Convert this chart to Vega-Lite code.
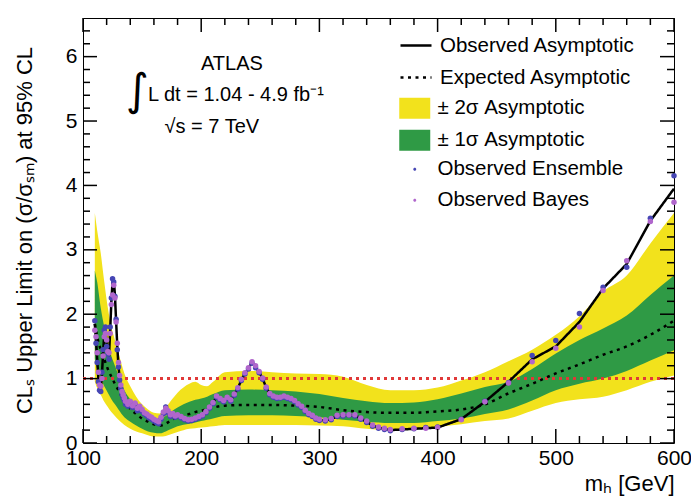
{
  "$schema": "https://vega.github.io/schema/vega-lite/v6.json",
  "width": 591,
  "height": 425,
  "autosize": {"type": "none"},
  "padding": {"left": 83, "top": 18, "right": 17, "bottom": 55},
  "background": "white",
  "config": {
    "font": "Liberation Sans",
    "view": {"stroke": "black", "strokeWidth": 1},
    "axis": {"labelColor": "black", "tickColor": "black", "titleColor": "black", "grid": false, "domain": false, "labelFont": "Liberation Sans", "titleFont": "Liberation Sans"},
    "legend": {"labelFont": "Liberation Sans", "labelColor": "black", "labelLimit": 0}
  },
  "datasets": {
    "xmajor": [{"m": 100}, {"m": 200}, {"m": 300}, {"m": 400}, {"m": 500}, {"m": 600}],
    "xminor": [{"m": 120}, {"m": 140}, {"m": 160}, {"m": 180}, {"m": 220}, {"m": 240}, {"m": 260}, {"m": 280}, {"m": 320}, {"m": 340}, {"m": 360}, {"m": 380}, {"m": 420}, {"m": 440}, {"m": 460}, {"m": 480}, {"m": 520}, {"m": 540}, {"m": 560}, {"m": 580}],
    "ymajor": [{"v": 0}, {"v": 1}, {"v": 2}, {"v": 3}, {"v": 4}, {"v": 5}, {"v": 6}],
    "yminor": [{"v": 0.2}, {"v": 0.4}, {"v": 0.6}, {"v": 0.8}, {"v": 1.2}, {"v": 1.4}, {"v": 1.6}, {"v": 1.8}, {"v": 2.2}, {"v": 2.4}, {"v": 2.6}, {"v": 2.8}, {"v": 3.2}, {"v": 3.4}, {"v": 3.6}, {"v": 3.8}, {"v": 4.2}, {"v": 4.4}, {"v": 4.6}, {"v": 4.8}, {"v": 5.2}, {"v": 5.4}, {"v": 5.6}, {"v": 5.8}, {"v": 6.2}, {"v": 6.4}],
    "bands": [
      {"m": 110, "exp": 1.85, "g_lo": 1.3, "g_hi": 2.68, "y_lo": 0.95, "y_hi": 3.57},
      {"m": 112, "exp": 1.65, "g_lo": 1.15, "g_hi": 2.5, "y_lo": 0.85, "y_hi": 3.3},
      {"m": 115, "exp": 1.45, "g_lo": 1.0, "g_hi": 2.1, "y_lo": 0.75, "y_hi": 2.95},
      {"m": 118, "exp": 1.3, "g_lo": 0.88, "g_hi": 1.8, "y_lo": 0.64, "y_hi": 2.5},
      {"m": 121, "exp": 1.15, "g_lo": 0.78, "g_hi": 1.55, "y_lo": 0.56, "y_hi": 2.1},
      {"m": 124, "exp": 1.03, "g_lo": 0.68, "g_hi": 1.35, "y_lo": 0.48, "y_hi": 1.8},
      {"m": 127, "exp": 0.92, "g_lo": 0.6, "g_hi": 1.2, "y_lo": 0.42, "y_hi": 1.6},
      {"m": 130, "exp": 0.82, "g_lo": 0.52, "g_hi": 1.05, "y_lo": 0.36, "y_hi": 1.4},
      {"m": 135, "exp": 0.64, "g_lo": 0.4, "g_hi": 0.82, "y_lo": 0.28, "y_hi": 1.08},
      {"m": 140, "exp": 0.53, "g_lo": 0.33, "g_hi": 0.68, "y_lo": 0.22, "y_hi": 0.88},
      {"m": 145, "exp": 0.45, "g_lo": 0.27, "g_hi": 0.59, "y_lo": 0.18, "y_hi": 0.72},
      {"m": 150, "exp": 0.38, "g_lo": 0.22, "g_hi": 0.5, "y_lo": 0.15, "y_hi": 0.6},
      {"m": 155, "exp": 0.33, "g_lo": 0.18, "g_hi": 0.44, "y_lo": 0.12, "y_hi": 0.52},
      {"m": 160, "exp": 0.29, "g_lo": 0.16, "g_hi": 0.39, "y_lo": 0.1, "y_hi": 0.47},
      {"m": 165, "exp": 0.27, "g_lo": 0.15, "g_hi": 0.37, "y_lo": 0.1, "y_hi": 0.46},
      {"m": 170, "exp": 0.3, "g_lo": 0.18, "g_hi": 0.42, "y_lo": 0.11, "y_hi": 0.55},
      {"m": 175, "exp": 0.36, "g_lo": 0.22, "g_hi": 0.49, "y_lo": 0.14, "y_hi": 0.67},
      {"m": 180, "exp": 0.4, "g_lo": 0.26, "g_hi": 0.55, "y_lo": 0.17, "y_hi": 0.78},
      {"m": 190, "exp": 0.45, "g_lo": 0.3, "g_hi": 0.64, "y_lo": 0.22, "y_hi": 0.92},
      {"m": 195, "exp": 0.48, "g_lo": 0.32, "g_hi": 0.67, "y_lo": 0.23, "y_hi": 0.95},
      {"m": 200, "exp": 0.5, "g_lo": 0.34, "g_hi": 0.69, "y_lo": 0.24, "y_hi": 0.9},
      {"m": 205, "exp": 0.53, "g_lo": 0.36, "g_hi": 0.72, "y_lo": 0.25, "y_hi": 0.88},
      {"m": 210, "exp": 0.55, "g_lo": 0.38, "g_hi": 0.76, "y_lo": 0.26, "y_hi": 0.95},
      {"m": 220, "exp": 0.58, "g_lo": 0.42, "g_hi": 0.82, "y_lo": 0.28, "y_hi": 1.1},
      {"m": 240, "exp": 0.59, "g_lo": 0.43, "g_hi": 0.83, "y_lo": 0.28, "y_hi": 1.12},
      {"m": 260, "exp": 0.59, "g_lo": 0.43, "g_hi": 0.82, "y_lo": 0.28, "y_hi": 1.1},
      {"m": 280, "exp": 0.58, "g_lo": 0.42, "g_hi": 0.8, "y_lo": 0.28, "y_hi": 1.08},
      {"m": 300, "exp": 0.56, "g_lo": 0.4, "g_hi": 0.76, "y_lo": 0.27, "y_hi": 1.07},
      {"m": 320, "exp": 0.51, "g_lo": 0.36, "g_hi": 0.7, "y_lo": 0.26, "y_hi": 1.03},
      {"m": 340, "exp": 0.48, "g_lo": 0.33, "g_hi": 0.65, "y_lo": 0.22, "y_hi": 0.9},
      {"m": 360, "exp": 0.47, "g_lo": 0.31, "g_hi": 0.62, "y_lo": 0.2, "y_hi": 0.82},
      {"m": 380, "exp": 0.47, "g_lo": 0.31, "g_hi": 0.63, "y_lo": 0.21, "y_hi": 0.82},
      {"m": 400, "exp": 0.49, "g_lo": 0.34, "g_hi": 0.68, "y_lo": 0.25, "y_hi": 0.86},
      {"m": 420, "exp": 0.52, "g_lo": 0.38, "g_hi": 0.77, "y_lo": 0.29, "y_hi": 0.97},
      {"m": 440, "exp": 0.6, "g_lo": 0.45, "g_hi": 0.87, "y_lo": 0.34, "y_hi": 1.1},
      {"m": 460, "exp": 0.77, "g_lo": 0.52, "g_hi": 0.95, "y_lo": 0.38, "y_hi": 1.27},
      {"m": 480, "exp": 0.92, "g_lo": 0.66, "g_hi": 1.15, "y_lo": 0.5, "y_hi": 1.45},
      {"m": 500, "exp": 1.08, "g_lo": 0.82, "g_hi": 1.39, "y_lo": 0.62, "y_hi": 1.68},
      {"m": 520, "exp": 1.22, "g_lo": 0.92, "g_hi": 1.6, "y_lo": 0.68, "y_hi": 1.97},
      {"m": 540, "exp": 1.37, "g_lo": 1.0, "g_hi": 1.78, "y_lo": 0.72, "y_hi": 2.35},
      {"m": 560, "exp": 1.5, "g_lo": 1.12, "g_hi": 1.98, "y_lo": 0.82, "y_hi": 2.6},
      {"m": 580, "exp": 1.68, "g_lo": 1.28, "g_hi": 2.3, "y_lo": 0.95, "y_hi": 3.1},
      {"m": 600, "exp": 1.9, "g_lo": 1.44, "g_hi": 2.6, "y_lo": 1.05, "y_hi": 3.57}
    ],
    "obs": [
      {"m": 110, "obs": 1.85, "ens": 1.9, "bay": 1.75},
      {"m": 111, "obs": 1.6, "ens": 1.55, "bay": 1.65},
      {"m": 112, "obs": 1.3, "ens": 1.25, "bay": 1.4},
      {"m": 113, "obs": 1.0, "ens": 0.95, "bay": 1.1},
      {"m": 114, "obs": 0.85, "ens": 0.82, "bay": 0.9},
      {"m": 115, "obs": 0.82, "ens": 0.8, "bay": 0.88},
      {"m": 116, "obs": 1.05, "ens": 1.1, "bay": 1.0},
      {"m": 117, "obs": 1.4, "ens": 1.45, "bay": 1.35},
      {"m": 118, "obs": 1.7, "ens": 1.75, "bay": 1.65},
      {"m": 119, "obs": 1.75, "ens": 1.8, "bay": 1.7},
      {"m": 120, "obs": 1.55, "ens": 1.5, "bay": 1.6},
      {"m": 121, "obs": 1.4, "ens": 1.38, "bay": 1.42},
      {"m": 122, "obs": 1.35, "ens": 1.3, "bay": 1.4},
      {"m": 123, "obs": 1.75, "ens": 1.8, "bay": 1.7},
      {"m": 124, "obs": 2.2, "ens": 2.25, "bay": 2.15},
      {"m": 125, "obs": 2.5, "ens": 2.55, "bay": 2.3},
      {"m": 126, "obs": 2.55, "ens": 2.5, "bay": 2.45},
      {"m": 127, "obs": 2.3, "ens": 2.28, "bay": 2.25},
      {"m": 128, "obs": 1.9, "ens": 1.92, "bay": 1.88},
      {"m": 129, "obs": 1.5, "ens": 1.45, "bay": 1.55},
      {"m": 130, "obs": 1.2, "ens": 1.18, "bay": 1.25},
      {"m": 131, "obs": 1.0, "ens": 0.98, "bay": 1.05},
      {"m": 132, "obs": 0.88, "ens": 0.85, "bay": 0.9},
      {"m": 133, "obs": 0.78, "ens": 0.75, "bay": 0.8},
      {"m": 134, "obs": 0.72, "ens": 0.7, "bay": 0.75},
      {"m": 135, "obs": 0.68, "ens": 0.66, "bay": 0.7},
      {"m": 136, "obs": 0.62, "ens": 0.6, "bay": 0.65},
      {"m": 138, "obs": 0.58, "ens": 0.57, "bay": 0.6},
      {"m": 140, "obs": 0.63, "ens": 0.62, "bay": 0.65},
      {"m": 142, "obs": 0.56, "ens": 0.55, "bay": 0.58},
      {"m": 144, "obs": 0.6, "ens": 0.6, "bay": 0.62},
      {"m": 146, "obs": 0.52, "ens": 0.5, "bay": 0.54},
      {"m": 148, "obs": 0.55, "ens": 0.54, "bay": 0.57},
      {"m": 150, "obs": 0.5, "ens": 0.49, "bay": 0.52},
      {"m": 152, "obs": 0.46, "ens": 0.45, "bay": 0.47},
      {"m": 154, "obs": 0.43, "ens": 0.42, "bay": 0.45},
      {"m": 156, "obs": 0.4, "ens": 0.39, "bay": 0.42},
      {"m": 158, "obs": 0.38, "ens": 0.37, "bay": 0.4},
      {"m": 160, "obs": 0.35, "ens": 0.34, "bay": 0.37},
      {"m": 162, "obs": 0.33, "ens": 0.32, "bay": 0.35},
      {"m": 164, "obs": 0.31, "ens": 0.3, "bay": 0.33},
      {"m": 166, "obs": 0.38, "ens": 0.37, "bay": 0.4},
      {"m": 168, "obs": 0.46, "ens": 0.45, "bay": 0.48},
      {"m": 170, "obs": 0.55, "ens": 0.56, "bay": 0.54},
      {"m": 172, "obs": 0.48, "ens": 0.47, "bay": 0.5},
      {"m": 174, "obs": 0.42, "ens": 0.41, "bay": 0.44},
      {"m": 176, "obs": 0.45, "ens": 0.44, "bay": 0.46},
      {"m": 178, "obs": 0.41, "ens": 0.4, "bay": 0.42},
      {"m": 180, "obs": 0.43, "ens": 0.42, "bay": 0.44},
      {"m": 183, "obs": 0.4, "ens": 0.39, "bay": 0.41},
      {"m": 186, "obs": 0.37, "ens": 0.36, "bay": 0.38},
      {"m": 189, "obs": 0.35, "ens": 0.34, "bay": 0.36},
      {"m": 192, "obs": 0.36, "ens": 0.35, "bay": 0.37},
      {"m": 195, "obs": 0.38, "ens": 0.37, "bay": 0.39},
      {"m": 198, "obs": 0.4, "ens": 0.39, "bay": 0.41},
      {"m": 201, "obs": 0.43, "ens": 0.42, "bay": 0.44},
      {"m": 204, "obs": 0.48, "ens": 0.47, "bay": 0.49},
      {"m": 207, "obs": 0.55, "ens": 0.54, "bay": 0.56},
      {"m": 210, "obs": 0.62, "ens": 0.61, "bay": 0.63},
      {"m": 213, "obs": 0.72, "ens": 0.71, "bay": 0.73},
      {"m": 216, "obs": 0.68, "ens": 0.67, "bay": 0.69},
      {"m": 219, "obs": 0.65, "ens": 0.64, "bay": 0.66},
      {"m": 222, "obs": 0.7, "ens": 0.69, "bay": 0.71},
      {"m": 225, "obs": 0.66, "ens": 0.65, "bay": 0.67},
      {"m": 228, "obs": 0.75, "ens": 0.74, "bay": 0.76},
      {"m": 231, "obs": 0.85, "ens": 0.84, "bay": 0.86},
      {"m": 234, "obs": 0.98, "ens": 0.97, "bay": 0.99},
      {"m": 237, "obs": 1.08, "ens": 1.07, "bay": 1.09},
      {"m": 240, "obs": 1.16, "ens": 1.15, "bay": 1.17},
      {"m": 243, "obs": 1.25, "ens": 1.24, "bay": 1.26},
      {"m": 246, "obs": 1.18, "ens": 1.17, "bay": 1.2},
      {"m": 249, "obs": 1.1, "ens": 1.09, "bay": 1.11},
      {"m": 252, "obs": 1.0, "ens": 0.99, "bay": 1.01},
      {"m": 255, "obs": 0.86, "ens": 0.85, "bay": 0.87},
      {"m": 258, "obs": 0.76, "ens": 0.75, "bay": 0.77},
      {"m": 261, "obs": 0.72, "ens": 0.71, "bay": 0.73},
      {"m": 264, "obs": 0.7, "ens": 0.69, "bay": 0.71},
      {"m": 267, "obs": 0.7, "ens": 0.7, "bay": 0.71},
      {"m": 270, "obs": 0.72, "ens": 0.71, "bay": 0.73},
      {"m": 273, "obs": 0.7, "ens": 0.69, "bay": 0.71},
      {"m": 276, "obs": 0.68, "ens": 0.67, "bay": 0.69},
      {"m": 279, "obs": 0.65, "ens": 0.64, "bay": 0.66},
      {"m": 282, "obs": 0.6, "ens": 0.59, "bay": 0.61},
      {"m": 285, "obs": 0.56, "ens": 0.55, "bay": 0.57},
      {"m": 288, "obs": 0.5, "ens": 0.49, "bay": 0.51},
      {"m": 291, "obs": 0.45, "ens": 0.44, "bay": 0.46},
      {"m": 294, "obs": 0.42, "ens": 0.41, "bay": 0.43},
      {"m": 297, "obs": 0.38, "ens": 0.37, "bay": 0.39},
      {"m": 300, "obs": 0.36, "ens": 0.35, "bay": 0.37},
      {"m": 305, "obs": 0.35, "ens": 0.34, "bay": 0.36},
      {"m": 310, "obs": 0.37, "ens": 0.36, "bay": 0.38},
      {"m": 315, "obs": 0.42, "ens": 0.41, "bay": 0.43},
      {"m": 320, "obs": 0.43, "ens": 0.42, "bay": 0.44},
      {"m": 325, "obs": 0.43, "ens": 0.43, "bay": 0.44},
      {"m": 330, "obs": 0.43, "ens": 0.42, "bay": 0.44},
      {"m": 335, "obs": 0.38, "ens": 0.37, "bay": 0.39},
      {"m": 340, "obs": 0.33, "ens": 0.32, "bay": 0.34},
      {"m": 345, "obs": 0.27, "ens": 0.26, "bay": 0.28},
      {"m": 350, "obs": 0.24, "ens": 0.23, "bay": 0.25},
      {"m": 355, "obs": 0.22, "ens": 0.21, "bay": 0.23},
      {"m": 360, "obs": 0.2, "ens": 0.19, "bay": 0.21},
      {"m": 370, "obs": 0.21, "ens": 0.21, "bay": 0.22},
      {"m": 380, "obs": 0.22, "ens": 0.22, "bay": 0.23},
      {"m": 390, "obs": 0.23, "ens": 0.24, "bay": 0.23},
      {"m": 400, "obs": 0.24, "ens": 0.25, "bay": 0.24},
      {"m": 420, "obs": 0.37, "ens": 0.37, "bay": 0.36},
      {"m": 440, "obs": 0.64, "ens": 0.65, "bay": 0.64},
      {"m": 460, "obs": 0.95, "ens": 0.94, "bay": 0.93},
      {"m": 480, "obs": 1.3, "ens": 1.36, "bay": 1.26},
      {"m": 500, "obs": 1.5, "ens": 1.59, "bay": 1.47},
      {"m": 520, "obs": 1.88, "ens": 2.01, "bay": 1.8},
      {"m": 540, "obs": 2.4, "ens": 2.42, "bay": 2.37},
      {"m": 560, "obs": 2.78, "ens": 2.73, "bay": 2.83},
      {"m": 580, "obs": 3.45, "ens": 3.49, "bay": 3.44},
      {"m": 600, "obs": 3.95, "ens": 4.15, "bay": 3.74}
    ],
    "notes": [
      {"m": 226, "v": 5.89, "label": "ATLAS"},
      {"m": 209, "v": 4.9, "label": "√s = 7 TeV"}
    ],
    "lumi": [
      {"m": 155, "v": 5.4, "label": "L dt = 1.04 - 4.9 fb⁻¹"}
    ],
    "integral": [
      {"m": 146, "v": 5.45, "label": "∫"}
    ]
  },
  "layer": [
    {
      "data": {"name": "bands"},
      "mark": {"type": "area", "interpolate": "monotone"},
      "encoding": {
        "x": {"field": "m", "type": "quantitative", "scale": {"domain": [100, 600], "nice": false, "zero": false},
          "axis": {"orient": "bottom", "ticks": false, "values": [100, 200, 300, 400, 500, 600], "format": "d", "labelFontSize": 21, "labelPadding": 4, "labelFlush": false,
            "title": "mₕ [GeV]", "titleFontSize": 22, "titleFontWeight": "normal", "titleAlign": "right", "titleBaseline": "alphabetic", "titleX": 591, "titleY": 47}},
        "y": {"field": "y_lo", "type": "quantitative", "scale": {"domain": [0, 6.6], "nice": false, "zero": false},
          "axis": {"orient": "left", "ticks": false, "values": [0, 1, 2, 3, 4, 5, 6], "format": "d", "labelFontSize": 21, "labelPadding": 6, "labelFlush": false,
            "title": "CLₛ Upper Limit on (σ/σₛₘ) at 95% CL", "titleFontSize": 22, "titleFontWeight": "normal", "titleAlign": "center", "titleBaseline": "alphabetic", "titleAngle": -90, "titleX": -52, "titleY": 212}},
        "y2": {"field": "y_hi"},
        "fill": {"datum": "± 2σ Asymptotic", "type": "nominal",
          "scale": {"domain": ["± 2σ Asymptotic", "± 1σ Asymptotic"], "range": ["#f2e21c", "#2f9a45"]},
          "legend": {"orient": "none", "legendX": 321.5, "legendY": 80, "title": null, "padding": 0, "symbolType": "M-1.55,-1.05H1.55V1.05H-1.55Z", "symbolSize": 400, "symbolStrokeWidth": 0, "labelFontSize": 20.5, "labelOffset": 12.5, "rowPadding": 10, "labelLimit": 0}}
      }
    },
    {
      "data": {"name": "bands"},
      "mark": {"type": "area", "interpolate": "monotone"},
      "encoding": {
        "x": {"field": "m", "type": "quantitative"},
        "y": {"field": "g_lo", "type": "quantitative"},
        "y2": {"field": "g_hi"},
        "fill": {"datum": "± 1σ Asymptotic", "type": "nominal"}
      }
    },
    {
      "data": {"name": "bands"},
      "mark": {"type": "rule", "color": "#e03a3a", "strokeWidth": 1.5, "strokeDash": [3, 4]},
      "encoding": {
        "y": {"datum": 1, "type": "quantitative"}
      }
    },
    {
      "data": {"name": "bands"},
      "mark": {"type": "line", "color": "black", "strokeWidth": 2.5, "interpolate": "monotone"},
      "encoding": {
        "x": {"field": "m", "type": "quantitative"},
        "y": {"field": "exp", "type": "quantitative"},
        "strokeDash": {"datum": "Expected Asymptotic", "type": "nominal",
          "scale": {"domain": ["Observed Asymptotic", "Expected Asymptotic"], "range": [[1, 0], [3, 4.5]]},
          "legend": {"orient": "none", "legendX": 321.5, "legendY": 16, "title": null, "padding": 0, "symbolType": "M-1.55,0H1.55", "symbolSize": 400, "symbolStrokeWidth": 2.5, "symbolStrokeColor": "black", "labelFontSize": 20.5, "labelOffset": 12.5, "rowPadding": 10, "labelLimit": 0}}
      }
    },
    {
      "data": {"name": "obs"},
      "mark": {"type": "line", "color": "black", "strokeWidth": 2.5},
      "encoding": {
        "x": {"field": "m", "type": "quantitative"},
        "y": {"field": "obs", "type": "quantitative"},
        "strokeDash": {"datum": "Observed Asymptotic", "type": "nominal"}
      }
    },
    {
      "data": {"name": "obs"},
      "transform": [{"fold": ["ens", "bay"], "as": ["key", "value"]}],
      "mark": {"type": "point", "filled": true, "size": 30, "opacity": 1},
      "encoding": {
        "x": {"field": "m", "type": "quantitative"},
        "y": {"field": "value", "type": "quantitative"},
        "order": {"field": "key", "sort": "descending"},
        "color": {"field": "key", "type": "nominal",
          "scale": {"domain": ["ens", "bay"], "range": ["#4646b4", "#b066cc"]},
          "legend": {"orient": "none", "legendX": 321.5, "legendY": 141, "title": null, "padding": 0, "symbolType": "M-0.15,0A0.15,0.15 0 1,0 0.15,0A0.15,0.15 0 1,0 -0.15,0", "symbolSize": 400, "symbolStrokeWidth": 0, "labelFontSize": 20.5, "labelOffset": 12.5, "rowPadding": 10, "labelLimit": 0,
            "labelExpr": "datum.value == 'ens' ? 'Observed Ensemble' : 'Observed Bayes'"}}
      }
    },
    {
      "data": {"name": "notes"},
      "mark": {"type": "text", "fontSize": 20, "align": "center", "baseline": "middle", "color": "black"},
      "encoding": {
        "x": {"field": "m", "type": "quantitative"},
        "y": {"field": "v", "type": "quantitative"},
        "text": {"field": "label"}
      }
    },
    {
      "data": {"name": "lumi"},
      "mark": {"type": "text", "fontSize": 20, "align": "left", "baseline": "middle", "color": "black"},
      "encoding": {
        "x": {"field": "m", "type": "quantitative"},
        "y": {"field": "v", "type": "quantitative"},
        "text": {"field": "label"}
      }
    },
    {
      "data": {"name": "integral"},
      "mark": {"type": "text", "fontSize": 44, "align": "center", "baseline": "middle", "color": "black", "font": "DejaVu Sans"},
      "encoding": {
        "x": {"field": "m", "type": "quantitative"},
        "y": {"field": "v", "type": "quantitative"},
        "text": {"field": "label"}
      }
    },
    {
      "data": {"name": "xmajor"},
      "mark": {"type": "rule", "color": "black", "strokeWidth": 1.5},
      "encoding": {"x": {"field": "m", "type": "quantitative"}, "y": {"datum": 0, "type": "quantitative"}, "y2": {"datum": 0.2174}}
    },
    {
      "data": {"name": "xminor"},
      "mark": {"type": "rule", "color": "black", "strokeWidth": 1.5},
      "encoding": {"x": {"field": "m", "type": "quantitative"}, "y": {"datum": 0, "type": "quantitative"}, "y2": {"datum": 0.1087}}
    },
    {
      "data": {"name": "xmajor"},
      "mark": {"type": "rule", "color": "black", "strokeWidth": 1.5},
      "encoding": {"x": {"field": "m", "type": "quantitative"}, "y": {"datum": 6.6, "type": "quantitative"}, "y2": {"datum": 6.3826}}
    },
    {
      "data": {"name": "xminor"},
      "mark": {"type": "rule", "color": "black", "strokeWidth": 1.5},
      "encoding": {"x": {"field": "m", "type": "quantitative"}, "y": {"datum": 6.6, "type": "quantitative"}, "y2": {"datum": 6.4913}}
    },
    {
      "data": {"name": "ymajor"},
      "mark": {"type": "rule", "color": "black", "strokeWidth": 1.5},
      "encoding": {"y": {"field": "v", "type": "quantitative"}, "x": {"datum": 100, "type": "quantitative"}, "x2": {"datum": 111.84}}
    },
    {
      "data": {"name": "yminor"},
      "mark": {"type": "rule", "color": "black", "strokeWidth": 1.5},
      "encoding": {"y": {"field": "v", "type": "quantitative"}, "x": {"datum": 100, "type": "quantitative"}, "x2": {"datum": 105.92}}
    },
    {
      "data": {"name": "ymajor"},
      "mark": {"type": "rule", "color": "black", "strokeWidth": 1.5},
      "encoding": {"y": {"field": "v", "type": "quantitative"}, "x": {"datum": 600, "type": "quantitative"}, "x2": {"datum": 588.16}}
    },
    {
      "data": {"name": "yminor"},
      "mark": {"type": "rule", "color": "black", "strokeWidth": 1.5},
      "encoding": {"y": {"field": "v", "type": "quantitative"}, "x": {"datum": 600, "type": "quantitative"}, "x2": {"datum": 594.08}}
    }
  ]
}
